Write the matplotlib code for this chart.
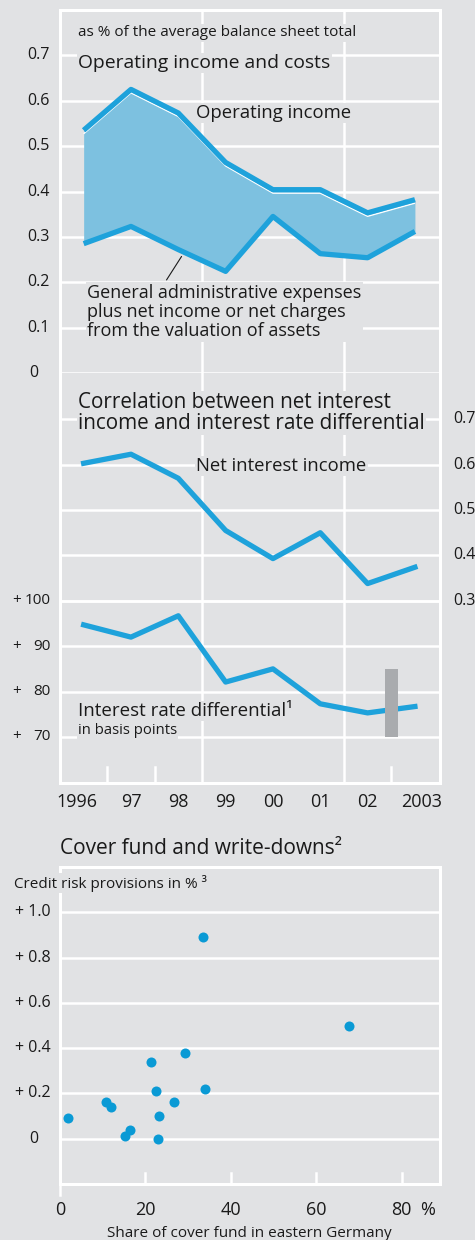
import matplotlib
matplotlib.use("Agg")
import matplotlib.pyplot as plt
import matplotlib.patheffects as pe

plt.rcParams['font.family'] = ['Open Sans', 'DejaVu Sans']

# ---- data ----
years = [1996, 1997, 1998, 1999, 2000, 2001, 2002, 2003]
year_labels = ["1996", "97", "98", "99", "00", "01", "02", "2003"]
operating_income = [0.535, 0.625, 0.573, 0.464, 0.404, 0.404, 0.353, 0.382]
admin_expenses = [0.285, 0.323, 0.272, 0.224, 0.345, 0.263, 0.254, 0.312]
net_interest_income = [0.603, 0.623, 0.570, 0.455, 0.393, 0.450, 0.338, 0.374]
rate_differential = [94.7, 92.0, 96.7, 82.1, 85.0, 77.3, 75.3, 76.7]
break_year = 2002.5
break_range = [70, 85]

cover_share = [1.9, 10.8, 11.9, 15.2, 16.4, 21.4, 22.6, 23.2, 22.9, 26.7, 29.2, 33.5, 33.9, 67.7]
credit_provisions = [0.09, 0.16, 0.14, 0.01, 0.04, 0.34, 0.21, 0.10, 0.0, 0.16, 0.38, 0.89, 0.22, 0.50]

left_ticks1 = [0, 0.1, 0.2, 0.3, 0.4, 0.5, 0.6, 0.7]
left_ticks2 = [70, 80, 90, 100]
right_ticks2 = [0.3, 0.4, 0.5, 0.6, 0.7]
yticks3 = [0, 0.2, 0.4, 0.6, 0.8, 1.0]
xticks3 = [0, 20, 40, 60, 80]

bg = "#e1e2e4"
blue = "#1ea2db"
fill_blue = "#7dc1e0"
grey_bar = "#a9abae"
txt = "#1a1a1a"
grid_lw = 1.8

W, H = 475, 1240
fig = plt.figure(figsize=(W / 100, H / 100), dpi=100, facecolor=bg)


def fx(x):
    return x / W


def fy(y):
    return 1 - y / H


def label(x, y, s, size, **kw):
    # text placed in pixel coords of the reference, masked with background
    kw.setdefault("va", "center")
    kw.setdefault("ha", "left")
    return fig.text(fx(x), fy(y), s, fontsize=size, color=txt,
                    bbox=dict(facecolor=bg, edgecolor="none", pad=1.0), **kw)


def frame(ax, sides):
    ax.set_facecolor(bg)
    for k, sp in ax.spines.items():
        sp.set_visible(k in sides)
        sp.set_color("white")
        sp.set_linewidth(2.2)
    ax.tick_params(length=0, labelleft=False, labelbottom=False)


# ---- panel 1: operating income and costs ----
ax1 = fig.add_axes([fx(60), fy(373), 380 / W, 363 / H])
frame(ax1, ["top", "left", "right"])
ax1.set_xlim(1995.5, 2003.53)
ax1.set_ylim(0, 0.8)
for v in left_ticks1:
    ax1.axhline(v, color="white", lw=grid_lw, zorder=1)
    ax1.text(-0.026 if v else -0.058, v, f"{v:g}", transform=ax1.get_yaxis_transform(),
             ha="right", va="center", fontsize=11.5, color=txt)
for xv in [1998.5, 2001.5]:
    ax1.axvline(xv, color="white", lw=grid_lw, zorder=1)
ax1.fill_between(years, admin_expenses, operating_income, color=fill_blue, lw=0, zorder=2)
ax1.plot(years, operating_income, color=blue, lw=3.8, zorder=4, solid_capstyle="butt",
         path_effects=[pe.Stroke(linewidth=1.0, foreground="white", offset=(0, -2.5)), pe.Normal()])
ax1.plot(years, admin_expenses, color=blue, lw=3.8, zorder=4, solid_capstyle="butt")
ax1.annotate("", xy=(1998.1, 0.262), xytext=(1997.72, 0.2),
             arrowprops=dict(arrowstyle="-", color=txt, lw=0.8))

label(78, 33, "as % of the average balance sheet total", 11)
label(78, 63, "Operating income and costs", 13.9)
label(196, 113, "Operating income", 13.3)
label(87, 312, "General administrative expenses\nplus net income or net charges\nfrom the valuation of assets",
      13, linespacing=1.08)

# ---- panel 2: net interest income vs interest rate differential ----
ax2 = fig.add_axes([fx(60), fy(783), 380 / W, 410 / H])
frame(ax2, ["bottom", "left", "right"])
ax2.set_xlim(1995.5, 2003.53)
ax2.set_ylim(59.85, 150.2)
ax2r = ax2.twinx()
ax2r.set_ylim(59.85 / 100 - 0.7, 150.2 / 100 - 0.7)
ax2r.axis("off")
for v in left_ticks2:
    ax2.axhline(v, color="white", lw=grid_lw, zorder=1)
    ax2.text(-0.024, v, f"{v}", transform=ax2.get_yaxis_transform(),
             ha="right", va="center", fontsize=11, color=txt)
    ax2.text(-0.126, v, "+", transform=ax2.get_yaxis_transform(),
             ha="left", va="center", fontsize=11, color=txt)
for v in right_ticks2:
    ax2r.axhline(v, color="white", lw=grid_lw, zorder=1)
    ax2r.text(1.034, v, f"{v:g}", transform=ax2r.get_yaxis_transform(),
              ha="left", va="center", fontsize=11.5, color=txt)
for xv in [1998.5, 2001.5]:
    ax2.axvline(xv, color="white", lw=grid_lw, zorder=1)
for xv in [1996.5, 1997.5, 2002.5]:
    ax2.axvline(xv, ymin=0, ymax=0.04, color="white", lw=grid_lw, zorder=1)
ax2.plot(years, rate_differential, color=blue, lw=3.8, zorder=4)
ax2r.plot(years, net_interest_income, color=blue, lw=3.8, zorder=4)
ax2.bar(break_year, break_range[1] - break_range[0], bottom=break_range[0], width=0.27,
        color=grey_bar, zorder=5)
for yr, s in zip(years, year_labels):
    shift = -0.15 if s == "1996" else (0.15 if s == "2003" else 0)
    ax2.text(yr + shift, -0.047, s, transform=ax2.get_xaxis_transform(),
             ha="center", va="center", fontsize=13, color=txt)

label(78, 413, "Correlation between net interest\nincome and interest rate differential", 14.9,
      linespacing=1.0)
label(196, 466, "Net interest income", 13.3)
label(78, 711, "Interest rate differential\u00b9", 13.5)
label(78, 731, "in basis points", 10.7)

# ---- panel 3: cover fund and write-downs ----
ax3 = fig.add_axes([fx(60), fy(1184), 380 / W, 317 / H])
frame(ax3, ["top", "bottom", "left", "right"])
ax3.set_xlim(0, 89)
ax3.set_ylim(-0.2, 1.2)
for v in yticks3:
    ax3.axhline(v, color="white", lw=grid_lw, zorder=1)
    if v:
        ax3.text(-0.024, v, f"+ {v:.1f}", transform=ax3.get_yaxis_transform(),
                 ha="right", va="center", fontsize=11.5, color=txt)
    else:
        ax3.text(-0.058, v, "0", transform=ax3.get_yaxis_transform(),
                 ha="right", va="center", fontsize=11.5, color=txt)
for xv in xticks3:
    if xv:
        ax3.axvline(xv, ymin=0, ymax=0.035, color="white", lw=grid_lw, zorder=1)
    else:
        ax3.axvline(xv, ymin=-0.035, ymax=0, color="white", lw=grid_lw, zorder=1, clip_on=False)
    ax3.text(xv, -0.082, f"{xv}", transform=ax3.get_xaxis_transform(),
             ha="center", va="center", fontsize=13, color=txt)
ax3.scatter(cover_share, credit_provisions, s=52, color="#0a9ad5", lw=0, zorder=4)

label(60, 848, "Cover fund and write-downs\u00b2", 15)
label(14, 883, "Credit risk provisions in % \u00b3", 11)
fig.text(fx(428), fy(1210), "%", fontsize=13, color=txt, ha="center", va="center")
fig.text(fx(249), fy(1237), "Share of cover fund in eastern Germany", fontsize=11, color=txt,
         ha="center", va="baseline")

fig.savefig("out.png", dpi=100, facecolor=bg)
